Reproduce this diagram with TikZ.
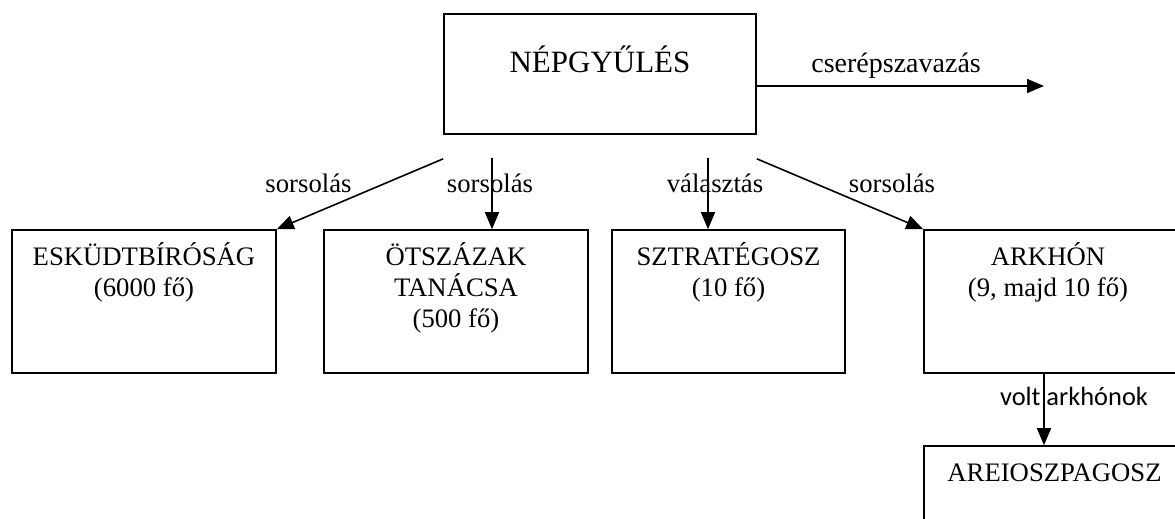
\documentclass[tikz,border=0pt]{standalone}
\usepackage{fontspec}
\setmainfont{Liberation Serif}
\newfontfamily\carlito{Carlito}
\usetikzlibrary{arrows.meta}
\begin{document}
\begin{tikzpicture}[x=1pt,y=-1pt,
  box/.style={draw, line width=1.6pt, inner sep=0pt},
  arr/.style={line width=1.6pt, -{Triangle[length=17pt,width=14pt]}},
  txt/.style={font=\fontsize{26.7}{31}\selectfont, inner sep=0pt, anchor=base},
  big/.style={font=\fontsize{31}{37}\selectfont, inner sep=0pt, anchor=base},
  sans/.style={font=\carlito\fontsize{26.4}{31}\selectfont, inner sep=0pt, anchor=base}
]
\useasboundingbox (0,0) rectangle (1175,519);
\fill[white] (0,0) rectangle (1175,519);
\begin{scope}
\clip (0,0) rectangle (1175,519);
\node[box, minimum width=312pt, minimum height=120pt] (nep) at (600,74) {};
\node[box, minimum width=264pt, minimum height=143pt] (esk) at (144,301.5) {};
\node[box, minimum width=264pt, minimum height=143pt] (otsz) at (456,301.5) {};
\node[box, minimum width=233pt, minimum height=143pt] (sztr) at (728.5,301.5) {};
\node[box, minimum width=260pt, minimum height=143pt] (ark) at (1054,301.5) {};
\node[box, minimum width=260pt, minimum height=100pt] (areo) at (1054,496) {};
\end{scope}

\node[big] (t0) at (600,72) {NÉPGYŰLÉS};
\node[txt] (t1a) at (144,265) {ESKÜDTBÍRÓSÁG};
\node[txt] (t1b) at (144,296) {(6000 fő)};
\node[txt] (t2a) at (456,265) {ÖTSZÁZAK};
\node[txt] (t2b) at (456,296) {TANÁCSA};
\node[txt] (t2c) at (456,327) {(500 fő)};
\node[txt] (t3a) at (728.5,265) {SZTRATÉGOSZ};
\node[txt] (t3b) at (728.5,296) {(10 fő)};
\node[txt] (t4a) at (1048,265) {ARKHÓN};
\node[txt] (t4b) at (1048,296) {(9, majd 10 fő)};
\node[txt] (t5a) at (1054.5,481) {AREIOSZPAGOSZ};

\node[txt] (l1) at (308.5,192) {sorsolás};
\node[txt] (l2) at (490,192) {sorsolás};
\node[txt] (l3) at (715,192) {választás};
\node[txt] (l4) at (892,192) {sorsolás};
\node[txt, font=\fontsize{28}{32}\selectfont, anchor=base east] (l5) at (981,72) {cserépszavazás};
\node[sans] (l6) at (1074,405) {volt arkhónok};

\coordinate (ce) at (1044,86);
\draw[arr] (nep.east |- ce) -- (ce);
\draw[arr] ([yshift=-24pt]nep.south west) -- (esk.north east);
\coordinate (s2) at (492,158);
\draw[arr] (s2) -- (s2 |- otsz.north);
\coordinate (s3) at (708,158);
\draw[arr] (s3) -- (s3 |- sztr.north);
\draw[arr] ([yshift=-24pt]nep.south east) -- (ark.north west);
\coordinate (s5) at (1044,0);
\draw[arr] (s5 |- ark.south) -- (s5 |- areo.north);
\end{tikzpicture}
\end{document}
